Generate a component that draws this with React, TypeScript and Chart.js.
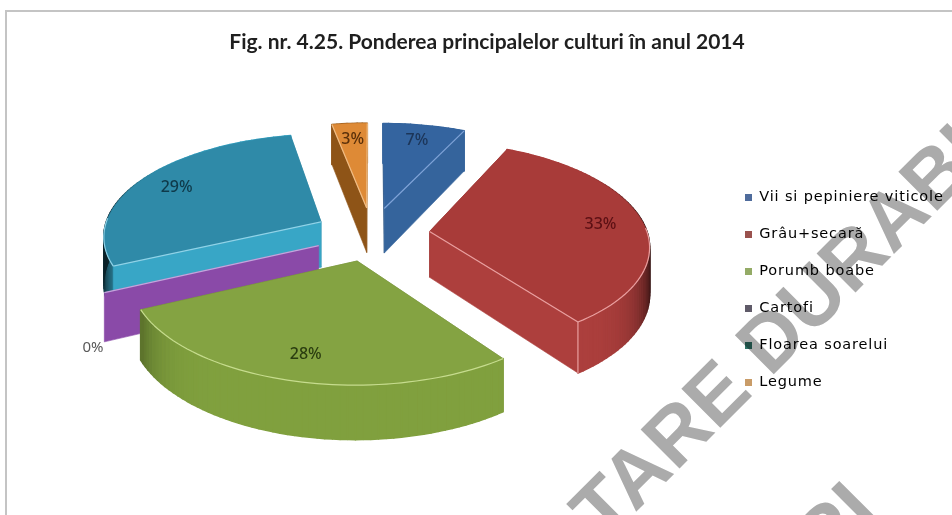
import React, { useEffect, useRef } from "react";
import { Chart, registerables } from "chart.js";

Chart.register(...registerables);

const titleText = "Fig. nr. 4.25. Ponderea principalelor culturi în anul 2014";
const categories = ["Vii si pepiniere viticole", "Grâu+secară", "Porumb boabe", "Cartofi", "Floarea soarelui", "Legume"];
const shares = [7, 33, 28, 0, 29, 3];
const explode = [58, 58, 58, 58, 58, 58];

const topColors = ["#34649f", "#a83b39", "#84a342", "#8a4aa6", "#2f8aa8", "#de8a36"];
const sideColors = ["#35649c", "#ad3f3d", "#80a03e", "#8a4aa8", "#38a6c6", "#8e5417"];
const edgeColors = ["#7fa3d8", "#eaa0a0", "#c6dc8e", "#c3a6dc", "#8fd3e8", "#f0bd85"];
const legendColors = ["#4f6c9c", "#9a524e", "#94ab66", "#5f5a68", "#2f7468", "#c99c68"];
const labelColors = ["#1c3558", "#5c1014", "#2b3d10", "#595959", "#0f3a4a", "#5a300a"];

const watermarkLead = "DEZVOLTARE ";
const watermarkTail = "DURABILĂ";
const watermarkNext = "RI";

const CX = 372;
const CY = 234;
const WORLD_R = 218;
const KY = 0.465;
const PERSP = 0.00057;
const DEPTH = 46;

type Pt = { x: number; y: number };

const f = (Y: number) => 1 / (1 - PERSP * Y);
const project = (X: number, Y: number, down = 0): Pt => ({
  x: CX + X * f(Y),
  y: CY + Y * KY * f(Y) + down * f(Y),
});

function shade(hex: string, m: number) {
  const n = parseInt(hex.slice(1), 16);
  const c = [(n >> 16) & 255, (n >> 8) & 255, n & 255].map((v) => Math.round(v * m));
  return `rgb(${c[0]},${c[1]},${c[2]})`;
}

function poly(ctx: CanvasRenderingContext2D, pts: Pt[], fill: string, sw = 0.6) {
  ctx.beginPath();
  pts.forEach((p, i) => (i ? ctx.lineTo(p.x, p.y) : ctx.moveTo(p.x, p.y)));
  ctx.closePath();
  ctx.fillStyle = fill;
  ctx.fill();
  ctx.strokeStyle = fill;
  ctx.lineWidth = sw;
  ctx.stroke();
}

function line(ctx: CanvasRenderingContext2D, pts: Pt[], color: string, w = 1.2) {
  ctx.beginPath();
  pts.forEach((p, i) => (i ? ctx.lineTo(p.x, p.y) : ctx.moveTo(p.x, p.y)));
  ctx.strokeStyle = color;
  ctx.lineWidth = w;
  ctx.stroke();
}

function sliceGeom(el: any) {
  const a0 = el.startAngle + Math.PI / 2;
  const a1 = el.endAngle + Math.PI / 2;
  const mid = (a0 + a1) / 2;
  const off = el.options.offset;
  const ox = Math.sin(mid) * off;
  const oy = -Math.cos(mid) * off;
  const at = (a: number, r: number): [number, number] => [ox + Math.sin(a) * r, oy - Math.cos(a) * r];
  return { a0, a1, mid, at };
}

const pie3d = {
  id: "pie3d",
  beforeDatasetDraw(chart: any) {
    const ctx: CanvasRenderingContext2D = chart.ctx;
    const arcs = chart.getDatasetMeta(0).data;
    const order = [0, 5, 4, 3, 1, 2];
    ctx.save();
    ctx.lineJoin = "round";
    for (const i of order) {
      const { a0, a1, at } = sliceGeom(arcs[i]);
      const zero = a1 - a0 < 1e-6;
      const apex = at(0, 0);
      const n = Math.max(2, Math.ceil((a1 - a0) / 0.03));
      const angleAt = (k: number) => a0 + ((a1 - a0) * k) / n;
      const cutFace = (a: number) => {
        const e = at(a, WORLD_R);
        return [project(apex[0], apex[1]), project(e[0], e[1]), project(e[0], e[1], DEPTH), project(apex[0], apex[1], DEPTH)];
      };
      const startVisible = Math.sin(a0) < 0;
      const endVisible = Math.sin(a1) > 0;

      if (!startVisible && !zero) poly(ctx, cutFace(a0), shade(sideColors[i], 0.8));
      if (!endVisible && !zero) poly(ctx, cutFace(a1), shade(sideColors[i], 0.8));

      if (!zero) {
        for (let k = 0; k < n; k++) {
          const u = angleAt(k);
          const v = angleAt(k + 1);
          const [ux, uy] = at(u, WORLD_R);
          const [vx, vy] = at(v, WORLD_R);
          const dark = 1 - 0.8 * Math.pow(Math.abs(Math.sin((u + v) / 2)), 10);
          poly(
            ctx,
            [project(ux, uy), project(vx, vy), project(vx, vy, DEPTH), project(ux, uy, DEPTH)],
            shade(sideColors[i], dark),
            1.6
          );
        }
      }
      if (startVisible) poly(ctx, cutFace(a0), sideColors[i]);
      if (endVisible && !zero) poly(ctx, cutFace(a1), sideColors[i]);

      if (!zero) {
        const top: Pt[] = [project(apex[0], apex[1])];
        for (let k = 0; k <= n; k++) {
          const [x, y] = at(angleAt(k), WORLD_R);
          top.push(project(x, y));
        }
        poly(ctx, top, topColors[i]);

        const rim: Pt[] = [];
        for (let k = 0; k <= n; k++) {
          const a = angleAt(k);
          if (Math.cos(a) < 0.05) {
            const [x, y] = at(a, WORLD_R);
            rim.push(project(x, y));
          }
        }
        if (rim.length > 1) line(ctx, rim, edgeColors[i]);
      }
      if (startVisible) line(ctx, cutFace(a0).slice(0, 2), edgeColors[i]);
      if (endVisible && !zero) {
        const face = cutFace(a1);
        line(ctx, face.slice(0, 2), edgeColors[i]);
        if (Math.cos(a1) < 0) line(ctx, [face[1], face[2]], edgeColors[i]);
      }
    }
    ctx.restore();
    return false;
  },
  afterDatasetsDraw(chart: any) {
    const ctx: CanvasRenderingContext2D = chart.ctx;
    const arcs = chart.getDatasetMeta(0).data;
    ctx.save();
    ctx.textAlign = "center";
    ctx.textBaseline = "middle";
    shares.forEach((value, i) => {
      const { mid, at } = sliceGeom(arcs[i]);
      const outside = value === 0;
      const [x, y] = at(mid, WORLD_R * (outside ? 1.05 : 0.8));
      const p = project(x, y, outside ? DEPTH : 0);
      ctx.font = outside ? "15px 'Noto Sans'" : "500 16px 'Noto Sans'";
      ctx.fillStyle = labelColors[i];
      ctx.fillText(`${value}%`, p.x, p.y + (outside ? 3 : 0));
    });
    ctx.restore();
  },
};

const legendPlacer = {
  id: "legendPlacer",
  beforeDraw(chart: any) {
    const l = chart.legend;
    l.left = 722.5;
    l.right = 952;
    l.top = 156;
    l.bottom = 156 + 268;
    if (!l.__spaced) {
      l.__spaced = true;
      const original = l.draw;
      l.draw = function () {
        const ctx: any = chart.ctx;
        ctx.save();
        ctx.letterSpacing = "0.85px";
        original.call(l);
        ctx.restore();
      };
    }
  },
};

const watermark = {
  id: "watermark",
  afterDraw(chart: any) {
    const ctx: CanvasRenderingContext2D = chart.ctx;
    ctx.save();
    ctx.globalCompositeOperation = "multiply";
    ctx.fillStyle = "#ababab";
    ctx.font = "bold 80px 'Liberation Sans'";
    ctx.textBaseline = "alphabetic";
    ctx.save();
    ctx.translate(770, 378);
    ctx.rotate(-Math.PI / 4);
    const lead = ctx.measureText(watermarkLead).width;
    ctx.fillText(watermarkLead + watermarkTail, -lead, 0);
    ctx.restore();
    ctx.save();
    ctx.translate(882, 516);
    ctx.rotate(-Math.PI / 4);
    ctx.textAlign = "right";
    ctx.fillText(watermarkNext, 0, 0);
    ctx.restore();
    ctx.restore();
  },
};

export default function App() {
  const ref = useRef<HTMLCanvasElement>(null);
  useEffect(() => {
    const chart = new Chart(ref.current!, {
      type: "pie",
      data: {
        labels: categories,
        datasets: [
          {
            data: shares,
            backgroundColor: topColors,
            borderWidth: 0,
            offset: explode,
          },
        ],
      },
      options: {
        animation: false,
        responsive: false,
        layout: { padding: { left: 22, top: 0 } },
        plugins: {
          title: {
            display: true,
            text: titleText,
            color: "#1f1f1f",
            font: { family: "Lato", size: 21, weight: "bold" },
            padding: { top: 30, bottom: 10 },
          },
          legend: {
            position: "right",
            labels: {
              boxWidth: 7,
              boxHeight: 7,
              padding: 22.5,
              color: "#555555",
              font: { family: "DejaVu Sans", size: 14.5 },
              generateLabels: () =>
                categories.map((text, i) => ({
                  text,
                  fillStyle: legendColors[i],
                  strokeStyle: legendColors[i],
                  lineWidth: 0,
                  index: i,
                })),
            },
          },
          tooltip: { enabled: false },
        },
      },
      plugins: [pie3d, legendPlacer, watermark],
    } as any);
    return () => chart.destroy();
  }, []);

  return (
    <div style={{ position: "fixed", left: 0, top: 0, width: 952, height: 515, background: "#fff", overflow: "hidden" }}>
      <div
        style={{
          position: "absolute",
          left: 5,
          top: 10,
          width: 960,
          height: 600,
          borderLeft: "2px solid #c4c4c4",
          borderTop: "2px solid #c4c4c4",
        }}
      />
      <canvas
        ref={ref}
        width={952}
        height={515}
        style={{ position: "absolute", left: 0, top: 0, width: 952, height: 515, filter: "blur(0.6px)" }}
      />
    </div>
  );
}
